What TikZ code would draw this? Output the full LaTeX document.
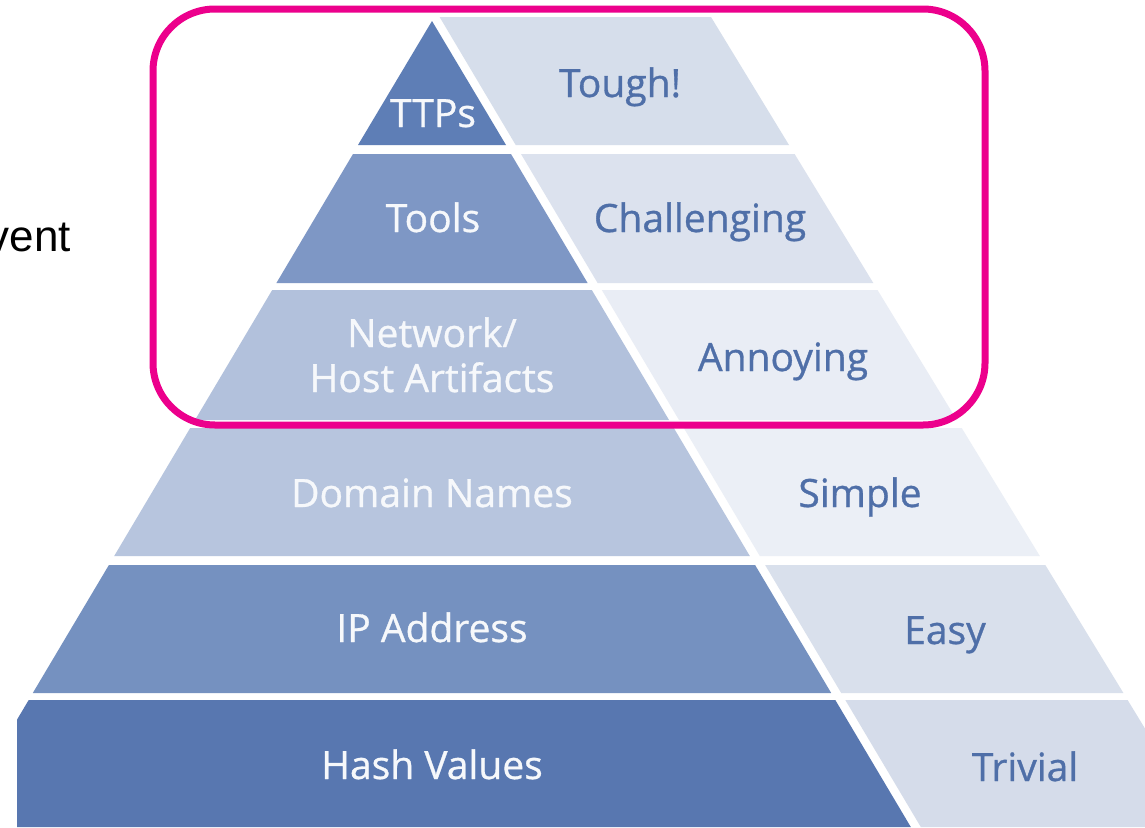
\documentclass[tikz,border=0pt]{standalone}
\usepackage{fontspec}
\setmainfont{Open Sans}
\newfontfamily\pyrfont[FakeBold=0.8]{Open Sans}
\newfontfamily\arialfont{Liberation Sans}
\definecolor{dkA}{HTML}{5E7EB6}
\definecolor{dkB}{HTML}{7E97C5}
\definecolor{dkC}{HTML}{B2C1DC}
\definecolor{dkD}{HTML}{B7C5DE}
\definecolor{dkE}{HTML}{7591C0}
\definecolor{dkF}{HTML}{5877B0}
\definecolor{ltA}{HTML}{D6DEEB}
\definecolor{ltB}{HTML}{DCE2EE}
\definecolor{ltC}{HTML}{E9EDF5}
\definecolor{ltD}{HTML}{EBEFF6}
\definecolor{ltE}{HTML}{D9E0EC}
\definecolor{ltF}{HTML}{D5DCEA}
\definecolor{txtblue}{HTML}{4F6FA8}
\definecolor{txtwhite}{HTML}{F6F8FB}
\definecolor{pinkline}{HTML}{EC008C}
\tikzset{
  lab/.style={font=\pyrfont\fontsize{39}{47}\selectfont, inner sep=0pt, anchor=base},
  leftlab/.style={lab, text=txtwhite},
  rightlab/.style={lab, text=txtblue},
  frame/.style={draw=pinkline, line width=7pt, rounded corners=62pt}
}
\begin{document}
\begin{tikzpicture}[x=1pt,y=-1pt]
\useasboundingbox (0,0) rectangle (1145,827);
\fill[white] (0,0) rectangle (1145,827);
\begin{scope}
\clip (17,0) rectangle (1145,827);
% dark (left) parts
\fill[dkA] (432,21) -- (506,145) -- (358,145) -- cycle;
\fill[dkB] (353,154) -- (511,154) -- (587.6,283) -- (276.4,283) -- cycle;
\fill[dkC] (272.2,290) -- (591.8,290) -- (669,420) -- (195,420) -- cycle;
\fill[dkD] (190.2,428) -- (673.8,428) -- (749.8,556) -- (114.2,556) -- cycle;
\fill[dkE] (108.9,565) -- (755.1,565) -- (831.2,693) -- (32.8,693) -- cycle;
\fill[dkF] (28.7,700) -- (835.3,700) -- (910.8,827) -- (-46.8,827) -- cycle;
% light (right) parts
\fill[ltA] (439.6,17) -- (711,17) -- (789,145) -- (515.7,145) -- cycle;
\fill[ltB] (521,154) -- (794.6,154) -- (873.3,283) -- (597.6,283) -- cycle;
\fill[ltC] (601.8,290) -- (877.5,290) -- (956.8,420) -- (679,420) -- cycle;
\fill[ltD] (683.8,428) -- (961.7,428) -- (1039.8,556) -- (759.8,556) -- cycle;
\fill[ltE] (765.1,565) -- (1045.3,565) -- (1123.4,693) -- (841.2,693) -- cycle;
\fill[ltF] (845.3,700) -- (1127.6,700) -- (1205,827) -- (920.8,827) -- cycle;
\end{scope}
% labels, left
\node[leftlab] (ttps) at (433,127) {TTPs};
\node[leftlab] (tools) at (433,232) {Tools};
\node[leftlab] (net) at (432,347) {Network/};
\node[leftlab] (host) at (432,392) {Host Artifacts};
\node[leftlab] (domain) at (432,507) {Domain Names};
\node[leftlab] (ip) at (432,642) {IP Address};
\node[leftlab] (hash) at (432,779) {Hash Values};
% labels, right
\node[rightlab] (tough) at (620,97) {Tough!};
\node[rightlab] (chall) at (700,232) {Challenging};
\node[rightlab] (annoy) at (783,371) {Annoying};
\node[rightlab] (simple) at (860,507) {Simple};
\node[rightlab] (easy) at (945,644) {Easy};
\node[rightlab] (trivial) at (1025,781) {Trivial};
% cut-off side text, as in the reference
\node[font=\arialfont\fontsize{44}{50}\selectfont, inner sep=0pt, anchor=base east] (vent) at (71,251) {vent};
% highlight frame
\draw[frame] (153,9) rectangle (985,425);
\end{tikzpicture}
\end{document}
